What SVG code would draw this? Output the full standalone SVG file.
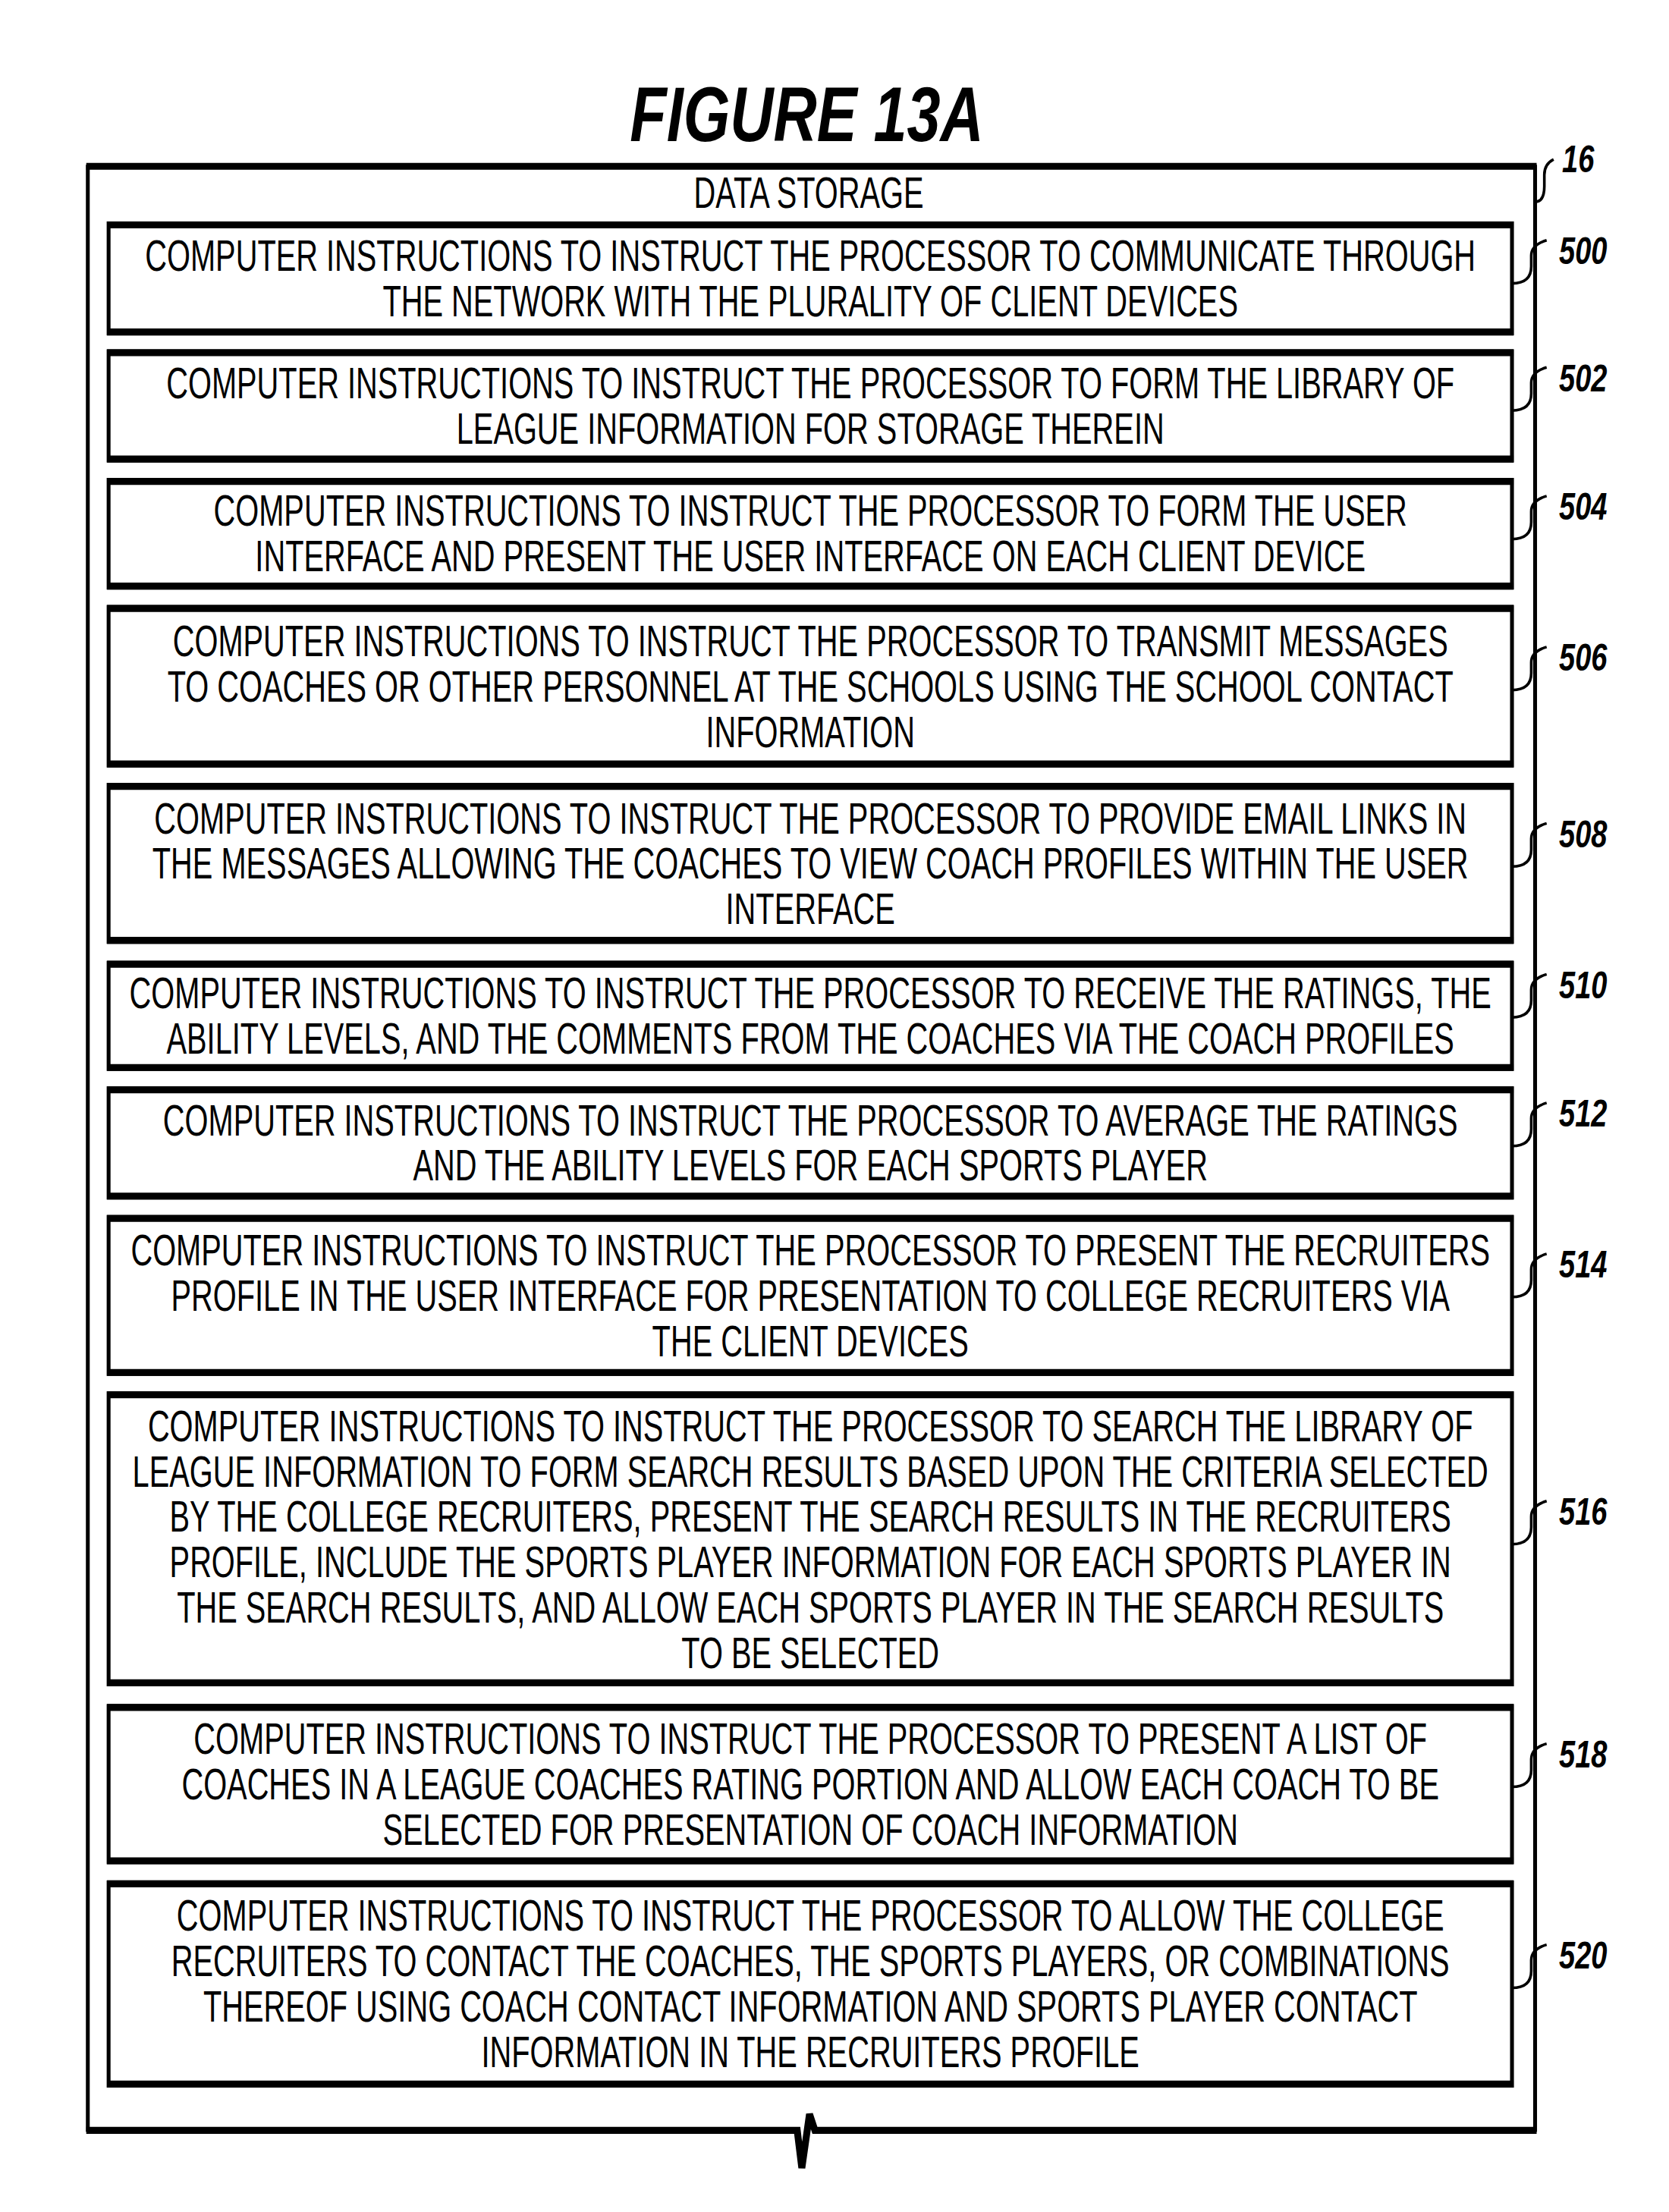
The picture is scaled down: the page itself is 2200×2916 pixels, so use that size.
<svg xmlns="http://www.w3.org/2000/svg" width="2200" height="2916" viewBox="0 0 2200 2916">
<style>
.t{font-family:"Liberation Sans",Arial,sans-serif;font-size:56px;text-anchor:middle;fill:#000}
.lb{font-family:"Liberation Sans",Arial,sans-serif;font-size:50px;font-weight:bold;font-style:italic;fill:#000}
.box{fill:none;stroke:#000;stroke-width:5}
.thk{stroke:#000;stroke-width:9;fill:none}
.ld{fill:none;stroke:#000;stroke-width:3.5}
</style>
<rect width="2200" height="2916" fill="#fff"/>
<g transform="scale(1.0153)">
<text transform="scale(0.78,1)" x="1343" y="183" style="font-family:'Liberation Sans',Arial,sans-serif;font-size:100px;font-weight:bold;font-style:italic;text-anchor:middle">FIGURE 13A</text>
<g id="storage">
<path d="M114 214 V2768 M1993 214 V2768" class="box"/>
<path d="M112 216 H1995" class="thk"/>
<path d="M112 2766 H1035 L1041 2815 L1051 2745 L1058 2766 H1995" class="thk" stroke-linejoin="miter"/>
<text class="t" transform="scale(0.7,1)" x="1500" y="270">DATA STORAGE</text>
<g transform="translate(2028,0)"><text class="lb" transform="scale(0.75,1)" x="0" y="224">16</text></g>
</g>
<g id="boxes">
<g id="n500"><rect class="box" x="141" y="290" width="1822" height="143"/><path class="thk" d="M139 292H1965M139 431H1965"/>
<text class="t" transform="scale(0.7,1)"><tspan x="1503" y="352">COMPUTER INSTRUCTIONS TO INSTRUCT THE PROCESSOR TO COMMUNICATE THROUGH</tspan><tspan x="1503" y="411">THE NETWORK WITH THE PLURALITY OF CLIENT DEVICES</tspan></text></g>
<g id="n502"><rect class="box" x="141" y="456" width="1822" height="142"/><path class="thk" d="M139 458H1965M139 596H1965"/>
<text class="t" transform="scale(0.7,1)"><tspan x="1503" y="517">COMPUTER INSTRUCTIONS TO INSTRUCT THE PROCESSOR TO FORM THE LIBRARY OF</tspan><tspan x="1503" y="576">LEAGUE INFORMATION FOR STORAGE THEREIN</tspan></text></g>
<g id="n504"><rect class="box" x="141" y="623" width="1822" height="140"/><path class="thk" d="M139 625H1965M139 761H1965"/>
<text class="t" transform="scale(0.7,1)"><tspan x="1503" y="683">COMPUTER INSTRUCTIONS TO INSTRUCT THE PROCESSOR TO FORM THE USER</tspan><tspan x="1503" y="742">INTERFACE AND PRESENT THE USER INTERFACE ON EACH CLIENT DEVICE</tspan></text></g>
<g id="n506"><rect class="box" x="141" y="788" width="1822" height="206"/><path class="thk" d="M139 790H1965M139 992H1965"/>
<text class="t" transform="scale(0.7,1)"><tspan x="1503" y="852">COMPUTER INSTRUCTIONS TO INSTRUCT THE PROCESSOR TO TRANSMIT MESSAGES</tspan><tspan x="1503" y="911">TO COACHES OR OTHER PERSONNEL AT THE SCHOOLS USING THE SCHOOL CONTACT</tspan><tspan x="1503" y="970">INFORMATION</tspan></text></g>
<g id="n508"><rect class="box" x="141" y="1019" width="1822" height="204"/><path class="thk" d="M139 1021H1965M139 1221H1965"/>
<text class="t" transform="scale(0.7,1)"><tspan x="1503" y="1082">COMPUTER INSTRUCTIONS TO INSTRUCT THE PROCESSOR TO PROVIDE EMAIL LINKS IN</tspan><tspan x="1503" y="1141">THE MESSAGES ALLOWING THE COACHES TO VIEW COACH PROFILES WITHIN THE USER</tspan><tspan x="1503" y="1200">INTERFACE</tspan></text></g>
<g id="n510"><rect class="box" x="141" y="1250" width="1822" height="138"/><path class="thk" d="M139 1252H1965M139 1386H1965"/>
<text class="t" transform="scale(0.7,1)"><tspan x="1503" y="1309">COMPUTER INSTRUCTIONS TO INSTRUCT THE PROCESSOR TO RECEIVE THE RATINGS, THE</tspan><tspan x="1503" y="1368">ABILITY LEVELS, AND THE COMMENTS FROM THE COACHES VIA THE COACH PROFILES</tspan></text></g>
<g id="n512"><rect class="box" x="141" y="1413" width="1822" height="142"/><path class="thk" d="M139 1415H1965M139 1553H1965"/>
<text class="t" transform="scale(0.7,1)"><tspan x="1503" y="1474">COMPUTER INSTRUCTIONS TO INSTRUCT THE PROCESSOR TO AVERAGE THE RATINGS</tspan><tspan x="1503" y="1533">AND THE ABILITY LEVELS FOR EACH SPORTS PLAYER</tspan></text></g>
<g id="n514"><rect class="box" x="141" y="1580" width="1822" height="204"/><path class="thk" d="M139 1582H1965M139 1782H1965"/>
<text class="t" transform="scale(0.7,1)"><tspan x="1503" y="1643">COMPUTER INSTRUCTIONS TO INSTRUCT THE PROCESSOR TO PRESENT THE RECRUITERS</tspan><tspan x="1503" y="1702">PROFILE IN THE USER INTERFACE FOR PRESENTATION TO COLLEGE RECRUITERS VIA</tspan><tspan x="1503" y="1761">THE CLIENT DEVICES</tspan></text></g>
<g id="n516"><rect class="box" x="141" y="1809" width="1822" height="378"/><path class="thk" d="M139 1811H1965M139 2185H1965"/>
<text class="t" transform="scale(0.7,1)"><tspan x="1503" y="1871">COMPUTER INSTRUCTIONS TO INSTRUCT THE PROCESSOR TO SEARCH THE LIBRARY OF</tspan><tspan x="1503" y="1930">LEAGUE INFORMATION TO FORM SEARCH RESULTS BASED UPON THE CRITERIA SELECTED</tspan><tspan x="1503" y="1989">BY THE COLLEGE RECRUITERS, PRESENT THE SEARCH RESULTS IN THE RECRUITERS</tspan><tspan x="1503" y="2048">PROFILE, INCLUDE THE SPORTS PLAYER INFORMATION FOR EACH SPORTS PLAYER IN</tspan><tspan x="1503" y="2107">THE SEARCH RESULTS, AND ALLOW EACH SPORTS PLAYER IN THE SEARCH RESULTS</tspan><tspan x="1503" y="2166">TO BE SELECTED</tspan></text></g>
<g id="n518"><rect class="box" x="141" y="2215" width="1822" height="203"/><path class="thk" d="M139 2217H1965M139 2416H1965"/>
<text class="t" transform="scale(0.7,1)"><tspan x="1503" y="2277">COMPUTER INSTRUCTIONS TO INSTRUCT THE PROCESSOR TO PRESENT A LIST OF</tspan><tspan x="1503" y="2336">COACHES IN A LEAGUE COACHES RATING PORTION AND ALLOW EACH COACH TO BE</tspan><tspan x="1503" y="2395">SELECTED FOR PRESENTATION OF COACH INFORMATION</tspan></text></g>
<g id="n520"><rect class="box" x="141" y="2444" width="1822" height="264"/><path class="thk" d="M139 2446H1965M139 2706H1965"/>
<text class="t" transform="scale(0.7,1)"><tspan x="1503" y="2507">COMPUTER INSTRUCTIONS TO INSTRUCT THE PROCESSOR TO ALLOW THE COLLEGE</tspan><tspan x="1503" y="2566">RECRUITERS TO CONTACT THE COACHES, THE SPORTS PLAYERS, OR COMBINATIONS</tspan><tspan x="1503" y="2625">THEREOF USING COACH CONTACT INFORMATION AND SPORTS PLAYER CONTACT</tspan><tspan x="1503" y="2684">INFORMATION IN THE RECRUITERS PROFILE</tspan></text></g>
</g>
<g id="labels">
<g transform="translate(2024,0)"><g transform="scale(0.75,1)"><text class="lb" x="0" y="343">500</text><text class="lb" x="0" y="508">502</text><text class="lb" x="0" y="675">504</text><text class="lb" x="0" y="871">506</text><text class="lb" x="0" y="1100">508</text><text class="lb" x="0" y="1296">510</text><text class="lb" x="0" y="1463">512</text><text class="lb" x="0" y="1659">514</text><text class="lb" x="0" y="1980">516</text><text class="lb" x="0" y="2295">518</text><text class="lb" x="0" y="2556">520</text></g></g>
</g>
<g id="connectors">
<path class="ld" d="M1993 262 q12 0 12 -20 v-15 q0 -14 12 -20"/>
<path class="ld" d="M1963 368 q25 0 25 -22 v-14 q0 -14 20 -20"/>
<path class="ld" d="M1963 533 q25 0 25 -22 v-14 q0 -14 20 -20"/>
<path class="ld" d="M1963 700 q25 0 25 -22 v-14 q0 -14 20 -20"/>
<path class="ld" d="M1963 896 q25 0 25 -22 v-14 q0 -14 20 -20"/>
<path class="ld" d="M1963 1125 q25 0 25 -22 v-14 q0 -14 20 -20"/>
<path class="ld" d="M1963 1321 q25 0 25 -22 v-14 q0 -14 20 -20"/>
<path class="ld" d="M1963 1488 q25 0 25 -22 v-14 q0 -14 20 -20"/>
<path class="ld" d="M1963 1684 q25 0 25 -22 v-14 q0 -14 20 -20"/>
<path class="ld" d="M1963 2005 q25 0 25 -22 v-14 q0 -14 20 -20"/>
<path class="ld" d="M1963 2320 q25 0 25 -22 v-14 q0 -14 20 -20"/>
<path class="ld" d="M1963 2581 q25 0 25 -22 v-14 q0 -14 20 -20"/>
</g>
</g>
</svg>
